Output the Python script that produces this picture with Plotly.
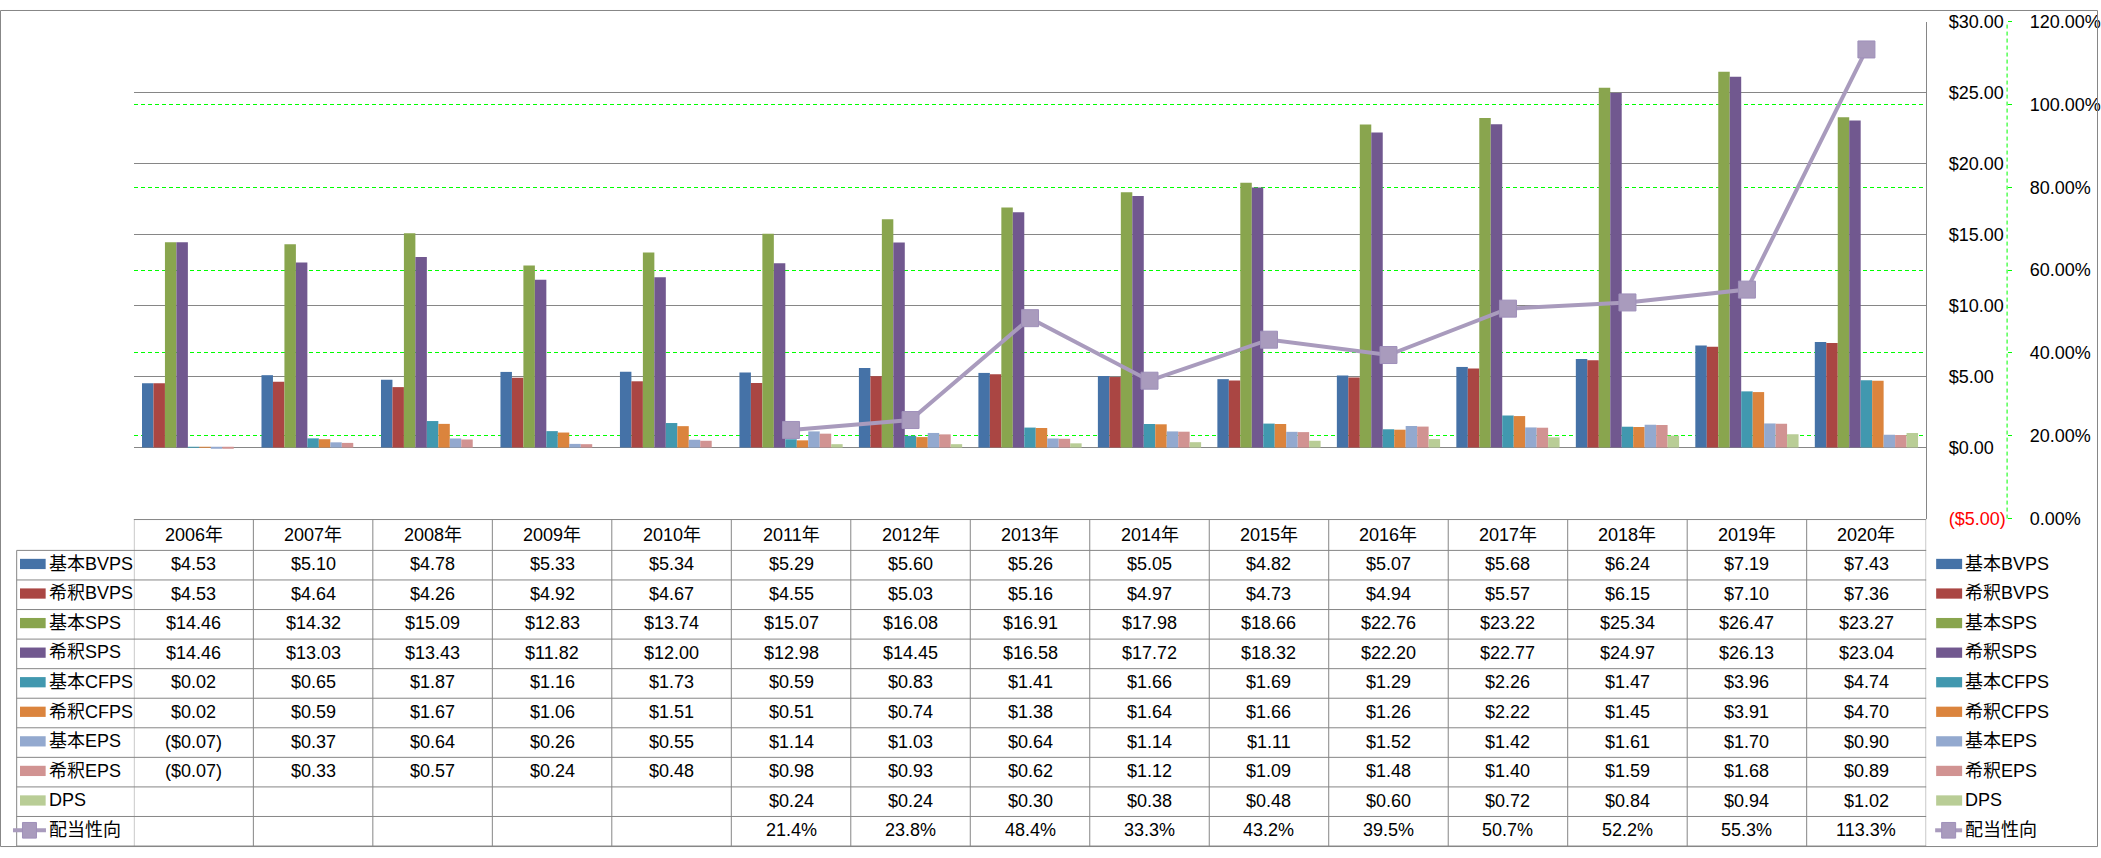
import plotly.graph_objects as go

# ---------------- data ----------------
years = ["2006年", "2007年", "2008年", "2009年", "2010年", "2011年", "2012年", "2013年",
         "2014年", "2015年", "2016年", "2017年", "2018年", "2019年", "2020年"]
bvps_basic = [4.53, 5.10, 4.78, 5.33, 5.34, 5.29, 5.60, 5.26, 5.05, 4.82, 5.07, 5.68, 6.24, 7.19, 7.43]
bvps_dil = [4.53, 4.64, 4.26, 4.92, 4.67, 4.55, 5.03, 5.16, 4.97, 4.73, 4.94, 5.57, 6.15, 7.10, 7.36]
sps_basic = [14.46, 14.32, 15.09, 12.83, 13.74, 15.07, 16.08, 16.91, 17.98, 18.66, 22.76, 23.22, 25.34, 26.47, 23.27]
sps_dil = [14.46, 13.03, 13.43, 11.82, 12.00, 12.98, 14.45, 16.58, 17.72, 18.32, 22.20, 22.77, 24.97, 26.13, 23.04]
cfps_basic = [0.02, 0.65, 1.87, 1.16, 1.73, 0.59, 0.83, 1.41, 1.66, 1.69, 1.29, 2.26, 1.47, 3.96, 4.74]
cfps_dil = [0.02, 0.59, 1.67, 1.06, 1.51, 0.51, 0.74, 1.38, 1.64, 1.66, 1.26, 2.22, 1.45, 3.91, 4.70]
eps_basic = [-0.07, 0.37, 0.64, 0.26, 0.55, 1.14, 1.03, 0.64, 1.14, 1.11, 1.52, 1.42, 1.61, 1.70, 0.90]
eps_dil = [-0.07, 0.33, 0.57, 0.24, 0.48, 0.98, 0.93, 0.62, 1.12, 1.09, 1.48, 1.40, 1.59, 1.68, 0.89]
dps = [None, None, None, None, None, 0.24, 0.24, 0.30, 0.38, 0.48, 0.60, 0.72, 0.84, 0.94, 1.02]
payout = [None, None, None, None, None, 21.4, 23.8, 48.4, 33.3, 43.2, 39.5, 50.7, 52.2, 55.3, 113.3]

bar_names = ["基本BVPS", "希釈BVPS", "基本SPS", "希釈SPS", "基本CFPS", "希釈CFPS", "基本EPS", "希釈EPS", "DPS"]
bar_values = [bvps_basic, bvps_dil, sps_basic, sps_dil, cfps_basic, cfps_dil, eps_basic, eps_dil, dps]
bar_colors = ["#4572A7", "#AA4643", "#89A54E", "#71588F", "#4198AF", "#DB843D", "#93A9CF", "#D19392", "#B9CD96"]
line_name = "配当性向"
line_color = "#A99BBD"

money_ticks = [-5, 0, 5, 10, 15, 20, 25, 30]
pct_ticks = [0, 20, 40, 60, 80, 100, 120]

# ---------------- geometry (pixels) ----------------
W, H = 2101, 858
FONT = "Liberation Sans, Noto Sans CJK JP, sans-serif"
FS = 18
LFS = 18
GRID = "#868686"
PLOT_L, PLOT_R = 134, 1928
PLOT_T, PLOT_B = 12, 520.7
HDR_T, HDR_B = 521.7, 553.3
TBL_B = 856
ROW_H = (TBL_B - HDR_B) / 10
LEG_L = 16.7
AX2_X = 2009


def fx(x):
    return x / W


def fy(y):
    return 1 - y / H


def money(v):
    if v is None:
        return ""
    return f"${v:.2f}" if v >= 0 else f"(${-v:.2f})"


def pct(v):
    return "" if v is None else f"{v:.1f}%"


fig = go.Figure()
for name, vals, col in zip(bar_names, bar_values, bar_colors):
    fig.add_trace(go.Bar(x=years, y=vals, name=name, marker=dict(color=col, line=dict(width=0)),
                         showlegend=False, yaxis="y"))
fig.add_trace(go.Scatter(x=years, y=payout, name=line_name, mode="lines+markers", yaxis="y2",
                         line=dict(color=line_color, width=4),
                         marker=dict(symbol="square", size=17, color=line_color,
                                     line=dict(color="#9F90BA", width=1)),
                         showlegend=False, connectgaps=False))

money_text = []
for v in money_ticks:
    if v < 0:
        money_text.append(f'<span style="color:#FF0000">{money(v)}</span>')
    else:
        money_text.append(money(v))

fig.update_layout(
    width=W, height=H, autosize=False,
    margin=dict(l=0, r=0, t=0, b=0, pad=0),
    paper_bgcolor="white", plot_bgcolor="white",
    font=dict(family=FONT, size=FS, color="black"),
    barmode="group", bargap=0.136, bargroupgap=0,
    xaxis=dict(type="category", domain=[fx(PLOT_L), fx(PLOT_R)], range=[-0.5, len(years) - 0.5],
               showticklabels=False, showgrid=False, zeroline=False, showline=False, ticks=""),
    yaxis=dict(domain=[fy(PLOT_B), fy(PLOT_T)], range=[-5, 30], side="right", anchor="x",
               tickvals=money_ticks, ticktext=money_text, showgrid=True, gridcolor=GRID, gridwidth=1,
               zeroline=True, zerolinecolor=GRID, zerolinewidth=1,
               showline=True, linecolor=GRID, linewidth=1, ticks="", ticklabelstandoff=18,
               tickfont=dict(family=FONT, size=FS, color="black")),
    yaxis2=dict(overlaying="y", side="right", anchor="free", position=fx(AX2_X), range=[0, 120],
                tickvals=pct_ticks, ticktext=[f"{v:.2f}%" for v in pct_ticks],
                showgrid=True, gridcolor="#00FF00", gridwidth=1, griddash="4px,3px",
                zeroline=False, showline=False, ticks="outside", ticklen=4, tickcolor="#00FF00",
                tickwidth=1, ticklabelstandoff=14,
                tickfont=dict(family=FONT, size=FS, color="black")),
)

shapes = []
annotations = []

# secondary axis dashed line
shapes.append(dict(type="line", xref="paper", yref="paper", x0=fx(AX2_X), x1=fx(AX2_X),
                   y0=fy(PLOT_B), y1=fy(PLOT_T), line=dict(color="#00FF00", width=1, dash="4px,3px")))

# table lines
shapes.append(dict(type="line", xref="paper", yref="paper", x0=fx(PLOT_L), x1=fx(PLOT_R),
                   y0=fy(HDR_T), y1=fy(HDR_T), line=dict(color=GRID, width=1)))
for k in range(11):
    yy = HDR_B + k * ROW_H
    shapes.append(dict(type="line", xref="paper", yref="paper", x0=fx(LEG_L), x1=fx(PLOT_R),
                       y0=fy(yy), y1=fy(yy), line=dict(color=GRID, width=1)))
shapes.append(dict(type="line", xref="paper", yref="paper", x0=fx(LEG_L), x1=fx(LEG_L),
                   y0=fy(HDR_B), y1=fy(TBL_B), line=dict(color=GRID, width=1)))
for i in range(len(years) + 1):
    shapes.append(dict(type="line", xref="x", yref="paper", x0=i - 0.5, x1=i - 0.5,
                       y0=fy(HDR_T), y1=fy(TBL_B), line=dict(color=GRID, width=1)))
# outer border
shapes.append(dict(type="rect", xref="paper", yref="paper", x0=fx(0.5), x1=fx(W - 1.5),
                   y0=fy(H - 1.5), y1=fy(0.5), line=dict(color=GRID, width=1)))

# header
for yr in years:
    annotations.append(dict(x=yr, y=fy((HDR_T + HDR_B) / 2), xref="x", yref="paper", text=yr,
                            showarrow=False, xanchor="center", yanchor="middle",
                            font=dict(family=FONT, size=FS, color="black")))

row_names = bar_names + [line_name]
row_texts = [[money(v) for v in vals] for vals in bar_values] + [[pct(v) for v in payout]]

for r, (rname, texts) in enumerate(zip(row_names, row_texts)):
    cy = HDR_B + (r + 0.5) * ROW_H
    for yr, t in zip(years, texts):
        if t:
            annotations.append(dict(x=yr, y=fy(cy - 1), xref="x", yref="paper", text=t,
                                    showarrow=False, xanchor="center", yanchor="middle",
                                    font=dict(family=FONT, size=FS, color="black")))
    # legend keys: left (inside table) and right
    for kx0, kx1, tx, lx0, lx1 in [(20, 45.7, 47, 13, 46), (1938, 1964, 1965, 1937, 1964)]:
        if r < len(bar_names):
            shapes.append(dict(type="rect", xref="paper", yref="paper", x0=fx(kx0), x1=fx(kx1),
                               y0=fy(cy - 6.5), y1=fy(cy + 4), fillcolor=bar_colors[r],
                               line=dict(width=0)))
        else:
            shapes.append(dict(type="line", xref="paper", yref="paper", x0=fx(lx0), x1=fx(lx1),
                               y0=fy(cy - 1), y1=fy(cy - 1), line=dict(color=line_color, width=4)))
            mc = (lx0 + lx1) / 2
            shapes.append(dict(type="rect", xref="paper", yref="paper", x0=fx(mc - 7), x1=fx(mc + 7),
                               y0=fy(cy + 7), y1=fy(cy - 9), fillcolor=line_color,
                               line=dict(color="#9F90BA", width=1)))
        annotations.append(dict(x=fx(tx), y=fy(cy - 1.5), xref="paper", yref="paper", text=rname,
                                showarrow=False, xanchor="left", yanchor="middle",
                                font=dict(family=FONT, size=LFS, color="black")))

fig.update_layout(shapes=shapes, annotations=annotations)

fig.write_html("out.html", config={"displayModeBar": False},
               post_script="document.body.style.margin='0';document.body.style.overflow='hidden';")
